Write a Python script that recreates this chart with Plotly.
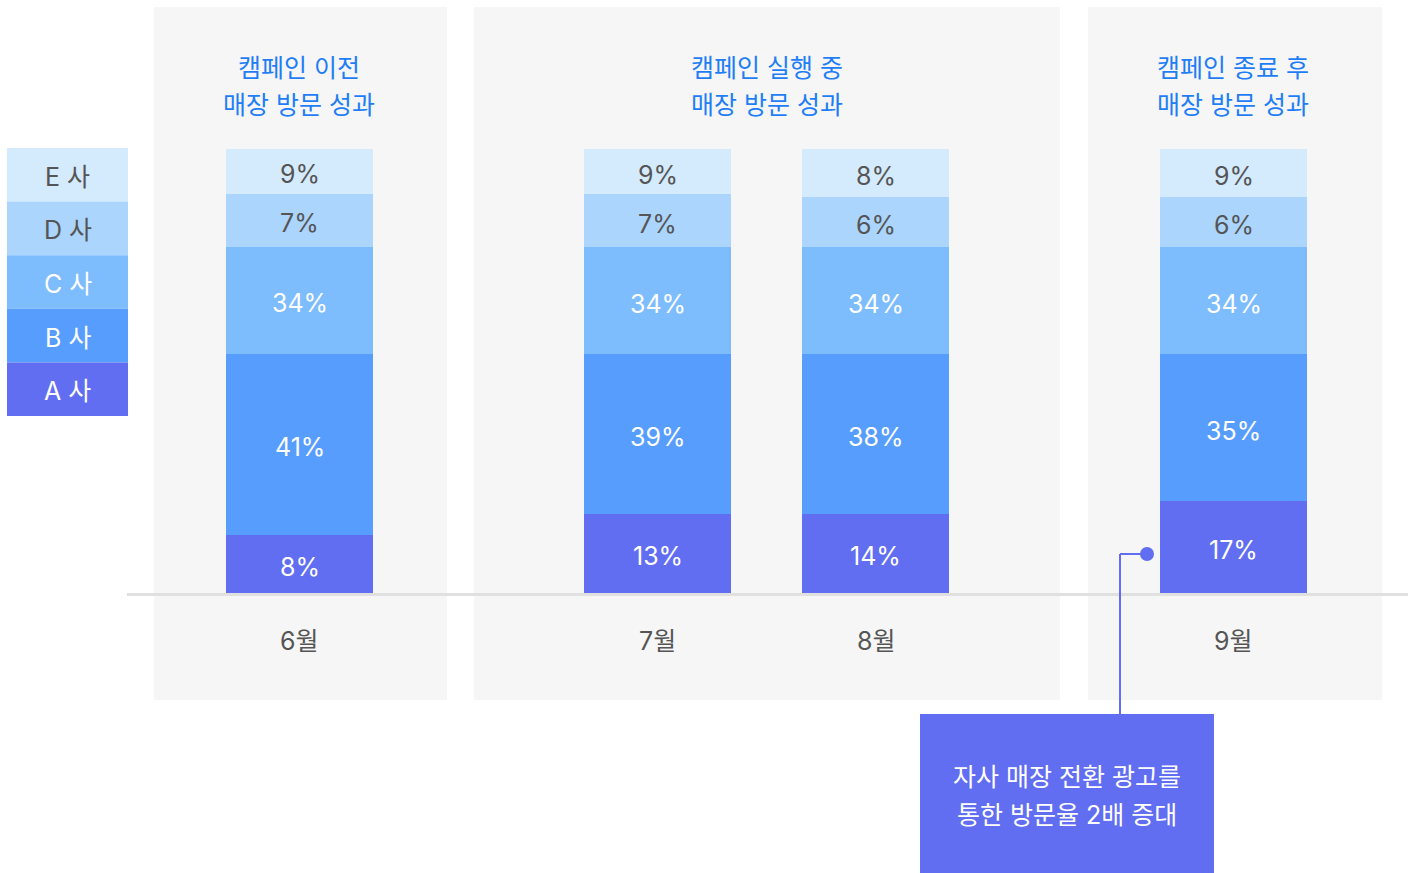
import plotly.graph_objects as go

# ---------------- data ----------------
months = ["6월", "7월", "8월", "9월"]
companies = ["A 사", "B 사", "C 사", "D 사", "E 사"]

# displayed share labels per company (bottom -> top)
label_a = ["8%", "13%", "14%", "17%"]
label_b = ["41%", "39%", "38%", "35%"]
label_c = ["34%", "34%", "34%", "34%"]
label_d = ["7%", "7%", "6%", "6%"]
label_e = ["9%", "9%", "8%", "9%"]

# drawn segment heights (share of bar height)
height_a = [13.1, 17.8, 17.8, 20.7]
height_b = [40.8, 36.0, 36.0, 33.1]
height_c = [24.1, 24.1, 24.1, 24.1]
height_d = [11.9, 11.9, 11.3, 11.3]
height_e = [10.1, 10.2, 10.8, 10.8]

group_titles = [
    ["캠페인 이전", "매장 방문 성과"],
    ["캠페인 실행 중", "매장 방문 성과"],
    ["캠페인 종료 후", "매장 방문 성과"],
]
callout_lines = ["자사 매장 전환 광고를", "통한 방문율 2배 증대"]

# ---------------- layout constants ----------------
W, H = 1415, 873
FONT = "Inter, Noto Sans CJK KR"
FS = 25
BASE_PX = 593.0          # pixel row of value 0
PX_PER_UNIT = 4.44       # pixels per unit of height
Y_MIN = -(H - BASE_PX) / PX_PER_UNIT
Y_MAX = BASE_PX / PX_PER_UNIT

bar_centers = [299.5, 657.5, 875.5, 1233.5]
bar_width = 147

colors = {
    "A 사": "#616ef2",
    "B 사": "#579dfd",
    "C 사": "#7dbcfd",
    "D 사": "#abd5fd",
    "E 사": "#d4eafd",
}
text_colors = {
    "A 사": "white",
    "B 사": "white",
    "C 사": "white",
    "D 사": "#555555",
    "E 사": "#555555",
}
heights = {"A 사": height_a, "B 사": height_b, "C 사": height_c,
           "D 사": height_d, "E 사": height_e}
labels = {"A 사": label_a, "B 사": label_b, "C 사": label_c,
          "D 사": label_d, "E 사": label_e}


def py(p):
    """pixel row -> paper y"""
    return 1 - p / H


fig = go.Figure()
annotations = []

cum = [0.0] * len(months)
for comp in companies:
    fig.add_trace(go.Bar(
        x=bar_centers,
        y=heights[comp],
        width=bar_width,
        name=comp,
        marker=dict(color=colors[comp], line=dict(width=0)),
        hoverinfo="skip",
    ))
    for k, (cx, h, lab) in enumerate(zip(bar_centers, heights[comp], labels[comp])):
        annotations.append(dict(x=cx, y=cum[k] + h / 2, xref="x", yref="y",
                                text=lab, showarrow=False, yshift=-3,
                                xanchor="center", yanchor="middle",
                                font=dict(family=FONT, size=FS, color=text_colors[comp])))
        cum[k] += h

shapes = []
# gray group panels
panels = [(154, 447), (474, 1060), (1088, 1382)]
for x0, x1 in panels:
    shapes.append(dict(type="rect", xref="x", yref="paper",
                       x0=x0, x1=x1, y0=py(700), y1=py(7),
                       fillcolor="#f6f6f6", line=dict(width=0), layer="below"))
# baseline
shapes.append(dict(type="line", xref="x", yref="paper",
                   x0=127, x1=1408, y0=py(594.5), y1=py(594.5),
                   line=dict(color="#e0e0e0", width=3), layer="below"))

# legend blocks (top E -> bottom A)
leg_top, leg_h = 148, 53.6
for i, comp in enumerate(reversed(companies)):
    t = leg_top + i * leg_h
    shapes.append(dict(type="rect", xref="x", yref="paper",
                       x0=7, x1=128, y0=py(t + leg_h), y1=py(t),
                       fillcolor=colors[comp], line=dict(width=0)))
    annotations.append(dict(x=67.5, y=py(t + leg_h / 2 + 2), xref="x", yref="paper",
                            text=comp, showarrow=False,
                            xanchor="center", yanchor="middle",
                            font=dict(family=FONT, size=FS, color=text_colors[comp])))

# group titles
title_centers = [299, 767, 1233]
for cx, lines in zip(title_centers, group_titles):
    for j, line in enumerate(lines):
        annotations.append(dict(x=cx, y=py(68 + j * 37), xref="x", yref="paper",
                                text=line, showarrow=False,
                                xanchor="center", yanchor="middle",
                                font=dict(family=FONT, size=FS, color="#1f7ef6")))

# month labels
for cx, m in zip(bar_centers, months):
    annotations.append(dict(x=cx, y=py(641), xref="x", yref="paper",
                            text=m, showarrow=False,
                            xanchor="center", yanchor="middle",
                            font=dict(family=FONT, size=FS, color="#555555")))

# callout
callout_color = "#616ef2"
shapes.append(dict(type="rect", xref="x", yref="paper",
                   x0=920, x1=1214, y0=py(880), y1=py(714),
                   fillcolor=callout_color, line=dict(width=0)))
shapes.append(dict(type="line", xref="x", yref="paper",
                   x0=1120, x1=1120, y0=py(714), y1=py(554),
                   line=dict(color=callout_color, width=2)))
shapes.append(dict(type="line", xref="x", yref="paper",
                   x0=1120, x1=1146, y0=py(554), y1=py(554),
                   line=dict(color=callout_color, width=2)))
shapes.append(dict(type="circle", xref="x", yref="paper",
                   x0=1140, x1=1154, y0=py(561), y1=py(547),
                   fillcolor=callout_color, line=dict(width=0)))
for j, line in enumerate(callout_lines):
    annotations.append(dict(x=1067, y=py(777 + j * 38), xref="x", yref="paper",
                            text=line, showarrow=False,
                            xanchor="center", yanchor="middle",
                            font=dict(family=FONT, size=FS, color="white")))

fig.update_layout(
    width=W, height=H,
    margin=dict(l=0, r=0, t=0, b=0),
    paper_bgcolor="white",
    plot_bgcolor="white",
    barmode="stack",
    showlegend=False,
    xaxis=dict(range=[0, W], visible=False, fixedrange=True),
    yaxis=dict(range=[Y_MIN, Y_MAX], visible=False, fixedrange=True),
    shapes=shapes,
    annotations=annotations,
    font=dict(family=FONT),
)

fig.write_html(
    "out.html",
    config={"displayModeBar": False},
    post_script="document.body.style.margin='0';document.body.style.overflow='hidden';",
)
